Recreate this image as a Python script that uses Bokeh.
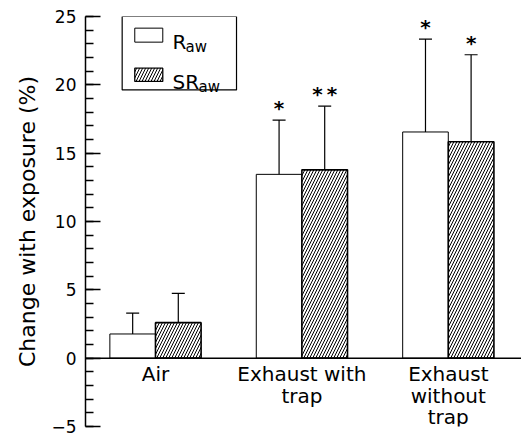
import numpy as np
from bokeh.plotting import figure
from bokeh.models import (ColumnDataSource, Whisker, TeeHead, Span, BoxAnnotation,
                          Label, LabelSet, FixedTicker, Range1d)
from bokeh.embed import file_html
from bokeh.resources import INLINE
from bokeh.core.properties import value

# ---- data ----
categories = ["Air", "Exhaust with\ntrap", "Exhaust\nwithout\ntrap"]
raw_mean = [1.77, 13.45, 16.55]
raw_upper = [3.30, 17.42, 23.35]
raw_lower = [0.00, 9.55, 9.91]
sr_mean = [2.60, 13.78, 15.84]
sr_upper = [4.74, 18.44, 22.20]
sr_lower = [0.42, 9.26, 9.69]
raw_sig = ["", "*", "*"]
sr_sig = ["", "*\u2009*", "*"]
y_ticks = [-5, 0, 5, 10, 15, 20, 25]
y_tick_labels = ["\u22125", "0", "5", "10", "15", "20", "25"]
y_minor_ticks = list(range(-5, 26))

FONT = "DejaVu Sans"
BAR_W = 0.3116

p = figure(width=521, height=436, x_range=Range1d(0.522, 3.5), y_range=Range1d(-5, 25),
           output_backend="svg", toolbar_location=None, title=None,
           min_border_left=85, min_border_right=0, min_border_top=16, min_border_bottom=10)
p.xaxis.visible = False
p.grid.visible = False
p.outline_line_color = None

ya = p.yaxis[0]
ya.ticker = FixedTicker(ticks=y_ticks, minor_ticks=y_minor_ticks)
ya.major_label_overrides = dict(zip(y_ticks, y_tick_labels))
ya.axis_line_color = "black"
ya.axis_line_width = 1.5
ya.major_tick_line_color = "black"
ya.minor_tick_line_color = "black"
ya.major_tick_line_width = 1.3
ya.minor_tick_line_width = 1.3
ya.major_tick_in = 15
ya.major_tick_out = 0
ya.minor_tick_in = 8
ya.minor_tick_out = 0
ya.major_label_standoff = 9
ya.major_label_text_font = FONT
ya.major_label_text_font_size = "17px"
ya.major_label_text_color = "black"
ya.axis_label = "Change with exposure (%)"
ya.axis_label_text_font = FONT
ya.axis_label_text_font_size = "22px"
ya.axis_label_text_font_style = "normal"
ya.axis_label_text_color = "black"
ya.axis_label_standoff = 8

x = np.arange(1, len(categories) + 1)
x_raw = x - BAR_W / 2
x_sr = x + BAR_W / 2

p.vbar(x=x_raw, top=raw_mean, bottom=0, width=BAR_W, fill_color="white",
       line_color="black", line_width=1)
p.vbar(x=x_sr, top=sr_mean, bottom=0, width=BAR_W, fill_color="white",
       hatch_pattern="/", hatch_color="black", hatch_scale=6, hatch_weight=1,
       line_color="black", line_width=1.6)

p.add_layout(Span(location=0, dimension="width", line_color="black", line_width=1.5))

src = ColumnDataSource(dict(base=np.concatenate([x_raw, x_sr]),
                            upper=np.array(raw_upper + sr_upper),
                            lower=np.array(raw_lower + sr_lower)))
p.add_layout(Whisker(source=src, base="base", upper="upper", lower="lower",
                     line_color="black", line_width=1.2,
                     upper_head=TeeHead(size=13, line_color="black", line_width=1.2),
                     lower_head=TeeHead(size=13, line_color="black", line_width=1.2)))

p.text(x=np.concatenate([x_raw, x_sr]), y=np.array(raw_upper + sr_upper),
       text=raw_sig + sr_sig, text_align="center", text_baseline="bottom",
       text_font=value(FONT), text_font_style="bold", text_font_size="20px",
       text_color="black")

# category labels: one centred line each, stacked below the zero line
PX_PER_UNIT = 13.67
LINE_PX = 21.65
FIRST_BASELINE_PX = 23.0
lx, ly, lt = [], [], []
for xi, cat in zip(x, categories):
    for i, line in enumerate(cat.split("\n")):
        lx.append(xi)
        ly.append(-(FIRST_BASELINE_PX + i * LINE_PX) / PX_PER_UNIT)
        lt.append(line)
cat_src = ColumnDataSource(dict(x=lx, y=ly, text=lt))
p.add_layout(LabelSet(source=cat_src, x="x", y="y", text="text", text_align="center",
                      text_baseline="alphabetic", text_font=value(FONT),
                      text_font_size="20px", text_color="black"))

# ---- legend (layout, in data units) ----
def dx(px):
    return 1 + (px - 155) / 146.35

def dy(py):
    return (357.8 - py) / PX_PER_UNIT

p.add_layout(BoxAnnotation(left=dx(121.7), right=dx(236), top=25.0, bottom=dy(89.5),
                           fill_color="white", fill_alpha=1, line_color="black",
                           line_alpha=1, line_width=1.2))
p.add_layout(BoxAnnotation(left=dx(134.3), right=dx(162.3), top=dy(27.7), bottom=dy(41.7),
                           fill_color="white", fill_alpha=1, line_color="black",
                           line_alpha=1, line_width=1))
p.add_layout(BoxAnnotation(left=dx(134.3), right=dx(162.3), top=dy(67.7), bottom=dy(81),
                           fill_color="white", fill_alpha=1, hatch_pattern="/",
                           hatch_color="black", hatch_scale=6, hatch_weight=1,
                           line_color="black", line_alpha=1, line_width=1.3))

for main, px_main, px_sub, py in [("R", 172, 185, 41.7), ("SR", 172, 198, 81.5)]:
    p.add_layout(Label(x=dx(px_main), y=dy(py), text=main, text_baseline="alphabetic",
                       text_font=FONT, text_font_size="20px", text_color="black"))
    p.add_layout(Label(x=dx(px_sub), y=dy(py + 5), text="aw", text_baseline="alphabetic",
                       text_font=FONT, text_font_size="15px", text_color="black"))

open("out.html", "w").write(file_html(p, INLINE))
